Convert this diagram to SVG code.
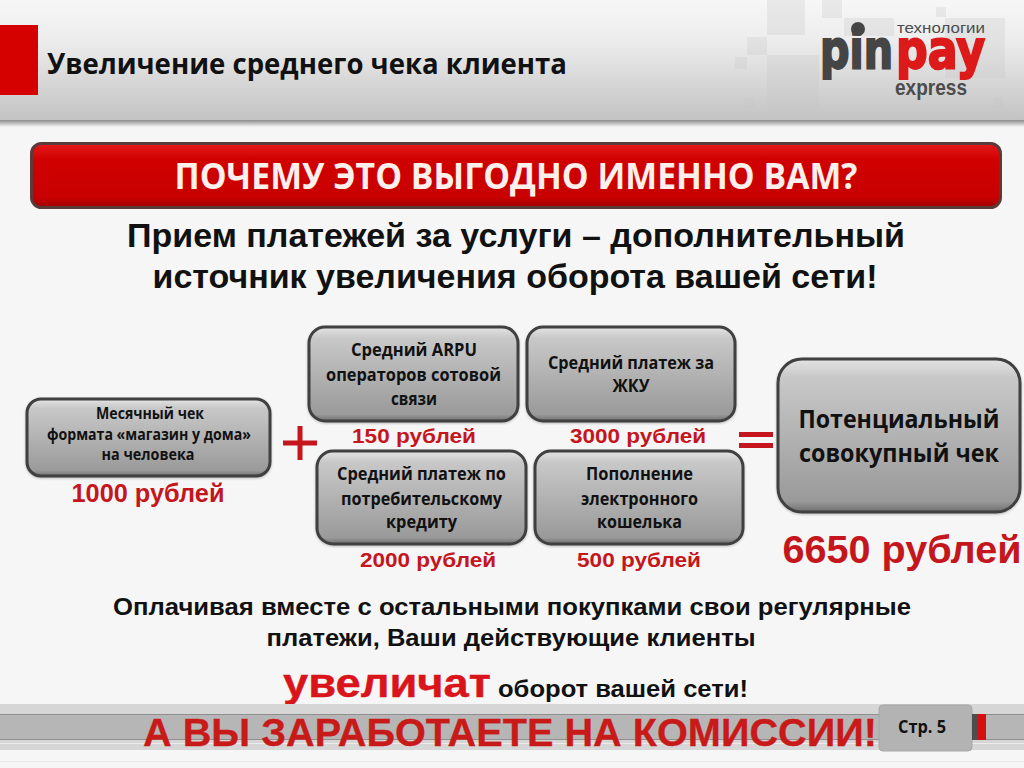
<svg xmlns="http://www.w3.org/2000/svg" width="1024" height="768" viewBox="0 0 1024 768">
<style>
.c{font-family:"Open Sans","Noto Sans","Liberation Sans",sans-serif;font-weight:700;text-anchor:middle;fill:#111}
.a{font-family:"Liberation Sans",Arial,sans-serif;font-weight:700;text-anchor:middle}
.k{fill:#111}
.r{fill:#c4161c}
.box{fill:url(#bx);stroke:#3f3f3f;stroke-width:3;filter:url(#ds)}
.sq{fill:#c4c4c4;opacity:.28}
.lg{font-family:"DejaVu Sans",sans-serif;font-weight:700;font-size:54px;stroke-width:2.2px}
</style>
<defs>
<linearGradient id="hd" x1="0" y1="0" x2="0" y2="1"><stop offset="0" stop-color="#f7f7f7"/><stop offset=".35" stop-color="#ececec"/><stop offset="1" stop-color="#c3c3c3"/></linearGradient>
<linearGradient id="bx" x1="0" y1="0" x2="0" y2="1"><stop offset="0" stop-color="#e4e4e4"/><stop offset=".12" stop-color="#c8c8c8"/><stop offset=".75" stop-color="#a4a4a4"/><stop offset=".93" stop-color="#9a9a9a"/><stop offset="1" stop-color="#6f6f6f"/></linearGradient>
<linearGradient id="rd" x1="0" y1="0" x2="0" y2="1"><stop offset="0" stop-color="#e61a1a"/><stop offset=".25" stop-color="#d00000"/><stop offset=".85" stop-color="#c80000"/><stop offset="1" stop-color="#a00000"/></linearGradient>
<linearGradient id="sh" x1="0" y1="0" x2="0" y2="1"><stop offset="0" stop-color="#8c8c8c"/><stop offset="1" stop-color="#f6f6f6"/></linearGradient>
<filter id="ds" x="-5%" y="-5%" width="110%" height="115%"><feDropShadow dx="0" dy="1" stdDeviation="1" flood-color="#000" flood-opacity=".25"/></filter>
</defs>
<rect width="1024" height="768" fill="#f6f6f6"/>
<g id="header">
<rect y="120" width="1024" height="7" fill="url(#sh)"/>
<rect width="1024" height="120" fill="url(#hd)"/>
<rect class="sq" x="767" y="0" width="38" height="35"/>
<rect class="sq" x="747" y="37" width="20" height="18"/>
<rect class="sq" x="735" y="57" width="12" height="12"/>
<rect class="sq" x="767" y="55" width="52" height="54"/>
<rect class="sq" x="822" y="0" width="20" height="18"/>
<rect class="sq" x="844" y="18" width="50" height="18"/>
<rect class="sq" x="936" y="7" width="10" height="10"/>
<rect class="sq" x="945" y="18" width="60" height="60"/>
<rect class="sq" x="744" y="98" width="10" height="10"/>
<rect class="sq" x="993" y="98" width="10" height="10"/>
<rect x="0" y="25" width="38" height="70" fill="#d50000"/>
<text class="c" x="307" y="74" font-size="29" textLength="520" lengthAdjust="spacingAndGlyphs">Увеличение среднего чека клиента</text>
</g>
<g id="logo">
<text class="lg" x="820" y="68" fill="#454545" stroke="#454545" textLength="73" lengthAdjust="spacingAndGlyphs">pin</text>
<circle cx="858" cy="29" r="7" fill="#454545"/>
<text class="lg" x="896" y="68" fill="#dd1a1a" stroke="#dd1a1a" textLength="89" lengthAdjust="spacingAndGlyphs">pay</text>
<text x="897" y="33" font-family="'Liberation Sans',sans-serif" font-size="14.5" fill="#4c4c4c" textLength="88" lengthAdjust="spacingAndGlyphs">технологии</text>
<text x="895" y="95" font-family="'Liberation Sans',sans-serif" font-weight="700" font-size="22" fill="#4c4c4c" textLength="72" lengthAdjust="spacingAndGlyphs">express</text>
</g>
<g id="banner">
<rect x="31.500" y="143.500" width="969" height="64" rx="10" fill="url(#rd)" stroke="#5b3a3a" stroke-width="3"/>
<text class="c" x="516" y="189" font-size="36" textLength="683" lengthAdjust="spacingAndGlyphs" style="fill:#fdf0ec">ПОЧЕМУ ЭТО ВЫГОДНО ИМЕННО ВАМ?</text>
</g>
<g id="subtitle">
<text class="a k" x="516" y="247" font-size="33" textLength="778" lengthAdjust="spacingAndGlyphs">Прием платежей за услуги – дополнительный</text>
<text class="a k" x="515" y="288" font-size="33" textLength="725" lengthAdjust="spacingAndGlyphs">источник увеличения оборота вашей сети!</text>
</g>
<g id="node-monthly">
<rect class="box" x="27" y="399" width="243" height="77" rx="14"/>
<text class="c" x="150" y="419" font-size="15.500" textLength="108" lengthAdjust="spacingAndGlyphs">Месячный чек</text>
<text class="c" x="149" y="440" font-size="15.500" textLength="204" lengthAdjust="spacingAndGlyphs">формата «магазин у дома»</text>
<text class="c" x="148" y="460" font-size="15.500" textLength="93" lengthAdjust="spacingAndGlyphs">на человека</text>
<text class="a r" x="148" y="502" font-size="25" textLength="153" lengthAdjust="spacingAndGlyphs">1000 рублей</text>
</g>
<g id="node-arpu">
<rect class="box" x="309" y="327" width="209" height="94" rx="16"/>
<text class="c" x="414" y="356" font-size="17" textLength="126" lengthAdjust="spacingAndGlyphs">Средний ARPU</text>
<text class="c" x="413.500" y="381" font-size="17" textLength="175" lengthAdjust="spacingAndGlyphs">операторов сотовой</text>
<text class="c" x="414" y="405" font-size="17" textLength="46" lengthAdjust="spacingAndGlyphs">связи</text>
<text class="a r" x="414" y="443" font-size="21" textLength="124" lengthAdjust="spacingAndGlyphs">150 рублей</text>
</g>
<g id="node-zhku">
<rect class="box" x="527" y="327" width="208" height="94" rx="16"/>
<text class="c" x="631" y="369" font-size="17" textLength="166" lengthAdjust="spacingAndGlyphs">Средний платеж за</text>
<text class="c" x="631" y="392" font-size="17" textLength="37" lengthAdjust="spacingAndGlyphs">ЖКУ</text>
<text class="a r" x="638" y="443" font-size="21" textLength="136" lengthAdjust="spacingAndGlyphs">3000 рублей</text>
</g>
<g id="node-credit">
<rect class="box" x="317" y="451" width="209" height="93" rx="16"/>
<text class="c" x="421.500" y="480" font-size="17" textLength="169" lengthAdjust="spacingAndGlyphs">Средний платеж по</text>
<text class="c" x="421.500" y="505" font-size="17" textLength="161" lengthAdjust="spacingAndGlyphs">потребительскому</text>
<text class="c" x="421.500" y="528" font-size="17" textLength="71" lengthAdjust="spacingAndGlyphs">кредиту</text>
<text class="a r" x="428" y="567" font-size="21" textLength="136" lengthAdjust="spacingAndGlyphs">2000 рублей</text>
</g>
<g id="node-wallet">
<rect class="box" x="535" y="451" width="208" height="93" rx="16"/>
<text class="c" x="639.500" y="480" font-size="17" textLength="107" lengthAdjust="spacingAndGlyphs">Пополнение</text>
<text class="c" x="639.500" y="505" font-size="17" textLength="117" lengthAdjust="spacingAndGlyphs">электронного</text>
<text class="c" x="639.500" y="528" font-size="17" textLength="85" lengthAdjust="spacingAndGlyphs">кошелька</text>
<text class="a r" x="639" y="567" font-size="21" textLength="124" lengthAdjust="spacingAndGlyphs">500 рублей</text>
</g>
<g id="node-total">
<rect class="box" x="778" y="359" width="242" height="153" rx="24"/>
<text class="c" x="899" y="428" font-size="25" textLength="201" lengthAdjust="spacingAndGlyphs">Потенциальный</text>
<text class="c" x="899" y="462" font-size="25" textLength="200" lengthAdjust="spacingAndGlyphs">совокупный чек</text>
<text class="a r" x="902" y="563" font-size="39" textLength="239" lengthAdjust="spacingAndGlyphs">6650 рублей</text>
</g>
<g id="connectors">
<path d="M283 443H317M300 426V460" stroke="#c4161c" stroke-width="5" fill="none"/>
<path d="M739 434.500H773M739 445.500H773" stroke="#c4161c" stroke-width="5" fill="none"/>
</g>
<g id="closing">
<text class="a k" x="512" y="615" font-size="23.500" textLength="798" lengthAdjust="spacingAndGlyphs">Оплачивая вместе с остальными покупками свои регулярные</text>
<text class="a k" x="511" y="646" font-size="23.500" textLength="489" lengthAdjust="spacingAndGlyphs">платежи, Ваши действующие клиенты</text>
<text class="a" x="387" y="697" font-size="41" fill="#d9141a" stroke="#d9141a" stroke-width=".4" textLength="208" lengthAdjust="spacingAndGlyphs">увеличат</text>
<text class="a k" x="623" y="697" font-size="23.500" textLength="250" lengthAdjust="spacingAndGlyphs">оборот вашей сети!</text>
</g>
<g id="footer">
<rect y="704" width="1024" height="46" fill="#d6d6d6"/>
<rect y="714" width="1024" height="26" fill="#b6b6b6"/>
<rect y="714" width="1024" height="1" fill="#8f8f8f"/>
<rect y="739" width="1024" height="1" fill="#8f8f8f"/>
<rect y="743" width="1024" height="1" fill="#ececec"/>
<rect y="761" width="1024" height="1" fill="#ececec"/>
<text class="a" x="510" y="746" font-size="39" fill="#c91a1a" stroke="#c91a1a" stroke-width=".3" textLength="734" lengthAdjust="spacingAndGlyphs">А ВЫ ЗАРАБОТАЕТЕ НА КОМИССИИ!</text>
<rect x="879" y="705" width="93" height="46" rx="4" fill="#b3b3b3" stroke="#a8a8a8"/>
<text class="c" x="922" y="733" font-size="17" textLength="48" lengthAdjust="spacingAndGlyphs">Стр. 5</text>
<rect x="972" y="714" width="6" height="26" fill="#4d4d4d"/>
<rect x="978" y="714" width="8" height="26" fill="#d50f0f"/>
</g>
</svg>
